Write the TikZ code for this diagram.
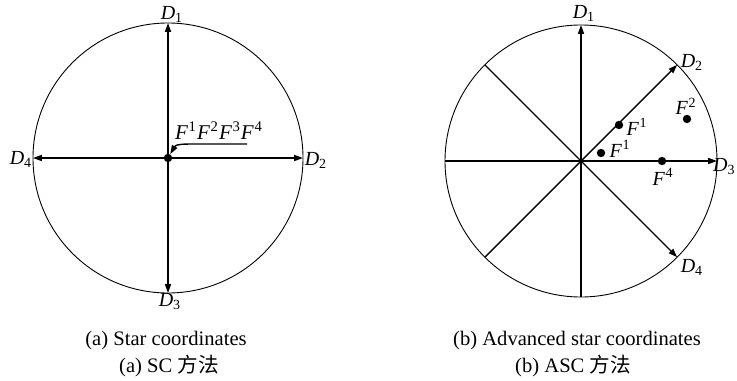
\documentclass[tikz,border=0pt]{standalone}
\usepackage{fontspec}
\setmainfont{Liberation Serif}
\newfontfamily\cjk{Noto Sans CJK SC}
\usetikzlibrary{arrows.meta}
\newcommand\Dlab[1]{\textit{D}\textsubscript{#1}}
\newcommand\Fsup[1]{\textit{F}\kern0.3pt\textsuperscript{#1}}
\begin{document}
\begin{tikzpicture}[x=0.5pt,y=-0.5pt,
  circ/.style={line width=0.45pt},
  ax/.style={line width=0.7pt,-{Triangle[length=4.4pt,width=3pt]}},
  axb/.style={line width=0.7pt,{Triangle[length=4.4pt,width=3pt]}-{Triangle[length=4.4pt,width=3pt]}},
  dot/.style={circle,fill=black,inner sep=0pt,minimum size=4.2pt},
  lab/.style={font=\fontsize{10}{11}\selectfont,inner sep=0pt},
  captxt/.style={font=\fontsize{10.3}{11}\selectfont,inner sep=0pt}]
\useasboundingbox (0,0) rectangle (737,380);
% ---------- left: SC ----------
\coordinate (LC) at (168,158);
\draw[circ] (LC) circle[radius=67.5pt];
\coordinate (L1) at (168,23);
\coordinate (L2) at (303,158);
\coordinate (L3) at (168,293);
\coordinate (L4) at (33,158);
\draw[axb] (L3) -- (L1);
\draw[axb] (L4) -- (L2);
\node[dot] (LD) at (LC) {};
\node[lab] (LD1) at (172,14) {\Dlab{1}};
\node[lab] (LD2) at (316,160) {\Dlab{2}};
\node[lab] (LD3) at (170,302) {\Dlab{3}};
\node[lab] (LD4) at (21,159) {\Dlab{4}};
\node[lab,font=\fontsize{10.5}{11}\selectfont] (LF) at (219,131) {\Fsup{1}\Fsup{2}\Fsup{3}\Fsup{4}};
\coordinate (fe) at (247,144);
\coordinate (fb) at (199,144);
\draw[line width=0.7pt,-{Triangle[length=4.4pt,width=3pt]}] (fe) -- (fb) to[out=180,in=60] (LD);
% ---------- right: ASC ----------
\coordinate (RC) at (581,161);
\draw[circ] (RC) circle[radius=68pt];
\coordinate (R1) at (581,25);
\coordinate (R3b) at (581,297);
\coordinate (Rw) at (445,161);
\coordinate (R3) at (717,161);
\coordinate (R2) at (677.2,64.8);
\coordinate (Rnw) at (484.8,64.8);
\coordinate (Rsw) at (484.8,257.2);
\coordinate (R4) at (677.2,257.2);
\draw[ax] (R3b) -- (R1);
\draw[ax] (Rw) -- (R3);
\draw[ax] (Rsw) -- (R2);
\draw[ax] (Rnw) -- (R4);
\node[dot] (F1a) at (619,125) {};
\node[dot] (F1b) at (601,153) {};
\node[dot] (F2) at (687,119) {};
\node[dot] (F4) at (662,161) {};
\node[lab] (tF1a) at (637,127) {\Fsup{1}};
\node[lab] (tF1b) at (620,149) {\Fsup{1}};
\node[lab] (tF2) at (686,106) {\Fsup{2}};
\node[lab] (tF4) at (663,177) {\Fsup{4}};
\node[lab] (RD1) at (584,13) {\Dlab{1}};
\node[lab] (RD2) at (692,62) {\Dlab{2}};
\node[lab,anchor=east] (RD3) at (736,167) {\Dlab{3}};
\node[lab] (RD4) at (692,267) {\Dlab{4}};
% ---------- captions ----------
\node[captxt] (capa) at (166,341) {(a) Star coordinates};
\node[captxt] (capa2) at (169,366) {(a) SC {\cjk 方法}};
\node[captxt] (capb) at (577,341) {(b) Advanced star coordinates};
\node[captxt] (capb2) at (573,366) {(b) ASC {\cjk 方法}};
\end{tikzpicture}
\end{document}
